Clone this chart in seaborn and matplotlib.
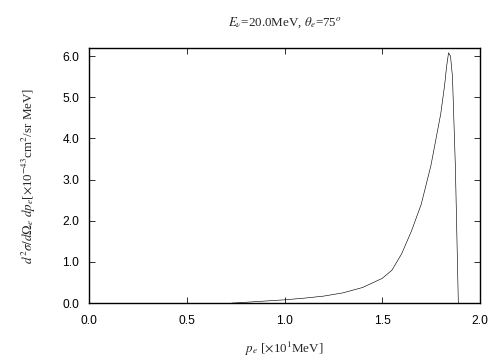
import matplotlib
matplotlib.use("Agg")
import matplotlib.pyplot as plt
import seaborn as sns

# electron momentum [x10 MeV] and cross section [x10^-43 cm^2/sr MeV]
p_e = [0.73, 0.8, 0.9, 1.0, 1.1, 1.2, 1.3, 1.4, 1.5, 1.55, 1.6, 1.65,
       1.7, 1.75, 1.8, 1.82, 1.83, 1.84, 1.85, 1.86, 1.875, 1.89]
xsec = [0.0, 0.02, 0.05, 0.08, 0.12, 0.17, 0.25, 0.38, 0.6, 0.8, 1.2, 1.75,
        2.4, 3.35, 4.6, 5.3, 5.75, 6.08, 6.0, 5.5, 3.3, 0.0]

sns.set_style("ticks")
plt.rcParams["font.family"] = ["Liberation Sans", "DejaVu Sans"]
plt.rcParams["mathtext.fontset"] = "stix"

fig = plt.figure(figsize=(7, 5), dpi=72)
ax = fig.add_axes([0.177, 0.158, 0.775, 0.709])
sns.lineplot(x=p_e, y=xsec, ax=ax, color="black", linewidth=0.6)

ax.set_xlim(0, 2.0)
ax.set_ylim(0, 6.2)
ax.set_xticks([0.0, 0.5, 1.0, 1.5, 2.0])
ax.set_yticks([0, 1, 2, 3, 4, 5, 6])
ax.set_xticklabels(["0.0", "0.5", "1.0", "1.5", "2.0"])
ax.set_yticklabels(["0.0", "1.0", "2.0", "3.0", "4.0", "5.0", "6.0"])
ax.tick_params(direction="in", top=True, right=True, length=6, width=0.8,
               labelsize=12, colors="black")
ax.tick_params(axis="x", pad=12)
ax.tick_params(axis="y", pad=10)
for s in ax.spines.values():
    s.set_linewidth(1.4)
    s.set_color("black")

ax.set_title(r"$E_\nu$=20.0MeV, $\theta_e$=75$^o$", fontsize=13,
             family="Liberation Serif", pad=22)
ax.set_xlabel(r"$p_e$ [$\times$10$^1$MeV]", fontsize=13,
              family="Liberation Serif", labelpad=13)
ax.set_ylabel(r"$d^2\sigma/d\Omega_e\;dp_e$[$\times$10$^{-43}$cm$^2$/sr MeV]",
              fontsize=13, family="Liberation Serif", labelpad=24)

fig.savefig("out.png", dpi=72)
